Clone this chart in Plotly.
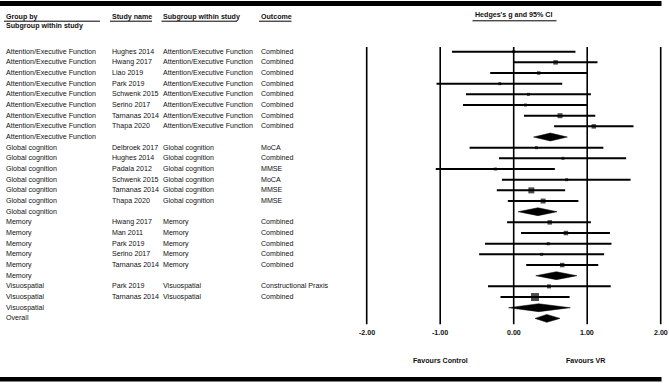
import plotly.graph_objects as go

# ---------------- data ----------------
group_by = (["Attention/Executive Function"] * 9 + ["Global cognition"] * 7 +
            ["Memory"] * 6 + ["Visuospatial"] * 3 + ["Overall"])
study_name = ["Hughes 2014", "Hwang 2017", "Liao 2019", "Park 2019", "Schwenk 2015",
              "Serino 2017", "Tarnanas 2014", "Thapa 2020", "",
              "Delbroek 2017", "Hughes 2014", "Padala 2012", "Schwenk 2015",
              "Tarnanas 2014", "Thapa 2020", "",
              "Hwang 2017", "Man 2011", "Park 2019", "Serino 2017", "Tarnanas 2014", "",
              "Park 2019", "Tarnanas 2014", "", ""]
subgroup = (["Attention/Executive Function"] * 8 + [""] +
            ["Global cognition"] * 6 + [""] +
            ["Memory"] * 5 + [""] +
            ["Visuospatial"] * 2 + ["", ""])
outcome = (["Combined"] * 8 + [""] +
           ["MoCA", "Combined", "MMSE", "MoCA", "MMSE", "MMSE", ""] +
           ["Combined"] * 5 + [""] +
           ["Constructional Praxis", "Combined", "", ""])
effect = [0.00, 0.57, 0.34, -0.19, 0.20, 0.16, 0.63, 1.09, 0.50,
          0.31, 0.67, -0.25, 0.72, 0.24, 0.40, 0.33,
          0.49, 0.71, 0.47, 0.38, 0.66, 0.58,
          0.48, 0.29, 0.34, 0.45]
ci_low = [-0.84, 0.00, -0.32, -1.05, -0.65, -0.69, 0.14, 0.55, 0.27,
          -0.60, -0.20, -1.06, -0.16, -0.23, -0.08, 0.06,
          -0.09, 0.10, -0.39, -0.47, 0.17, 0.30,
          -0.35, -0.18, -0.07, 0.29]
ci_high = [0.84, 1.14, 1.00, 0.66, 1.05, 1.00, 1.11, 1.63, 0.73,
           1.22, 1.53, 0.56, 1.59, 0.70, 0.88, 0.59,
           1.05, 1.31, 1.33, 1.23, 1.15, 0.86,
           1.32, 0.76, 0.77, 0.63]
is_summary = [False] * 8 + [True] + [False] * 6 + [True] + [False] * 5 + [True] + \
             [False] * 2 + [True, True]
rel_weight = [7, 20, 12, 7, 9, 7, 25, 20, 0,
              7, 7, 7, 7, 36, 25, 0,
              20, 20, 10, 7, 20, 0,
              16, 64, 0, 0]
tick_values = [-2, -1, 0, 1, 2]
tick_labels = ["-2.00", "-1.00", "0.00", "1.00", "2.00"]
header_cols = ["Group by", "Study name", "Subgroup within study", "Outcome"]
axis_title = "Hedges's g and 95% CI"
favours = ["Favours Control", "Favours VR"]

# ---------------- layout helpers ----------------
W, H = 669, 383
FONT = "Liberation Sans, Arial, sans-serif"
TXT = "#111111"


def px(x):
    return x / W


def py(y):
    return 1 - y / H


rows = list(range(1, len(effect) + 1))

fig = go.Figure()

# CI lines for individual studies
lx, ly = [], []
for r, lo, hi, s in zip(rows, ci_low, ci_high, is_summary):
    if not s:
        lx += [lo, hi, None]
        ly += [r, r, None]
fig.add_trace(go.Scatter(x=lx, y=ly, mode="lines",
                         line=dict(color="black", width=2), hoverinfo="skip"))

# square markers (size from weight)
mx = [e for e, s in zip(effect, is_summary) if not s]
my = [r for r, s in zip(rows, is_summary) if not s]
ms = [max(3.0, w ** 0.5) for w, s in zip(rel_weight, is_summary) if not s]
fig.add_trace(go.Scatter(x=mx, y=my, mode="markers",
                         marker=dict(symbol="square", size=ms, color="black",
                                     line=dict(width=0)), hoverinfo="skip"))

# summary diamonds
half_h = 0.37
for r, e, lo, hi, s in zip(rows, effect, ci_low, ci_high, is_summary):
    if s:
        fig.add_trace(go.Scatter(x=[lo, e, hi, e, lo], y=[r, r - half_h, r, r + half_h, r],
                                 mode="lines", fill="toself", fillcolor="black",
                                 line=dict(color="black", width=0.5), hoverinfo="skip"))

shapes = []
# vertical reference lines
for v in tick_values:
    shapes.append(dict(type="line", xref="x", yref="y", x0=v, x1=v, y0=0.56, y1=26.55,
                       line=dict(color="black", width=1.6), layer="below"))
# thick top / bottom bars
shapes.append(dict(type="rect", xref="paper", yref="paper", x0=0, x1=px(661.5),
                   y0=py(6), y1=py(1), fillcolor="black", line=dict(width=0)))
shapes.append(dict(type="rect", xref="paper", yref="paper", x0=0, x1=px(661.5),
                   y0=py(381.5), y1=py(377), fillcolor="black", line=dict(width=0)))
# header underlines
for x0, x1 in [(4, 100), (110, 152), (161.5, 237), (259, 291.5), (472.5, 556.5)]:
    yy = 21.2 if x0 < 400 else 20.8
    shapes.append(dict(type="line", xref="paper", yref="paper", x0=px(x0), x1=px(x1),
                       y0=py(yy), y1=py(yy), line=dict(color="black", width=1)))

ann = []
col_x = [4, 110, 161, 259]


def add_text(text, x, y, xref="paper", yref="paper", bold=False, anchor="left", size=7.1):
    ann.append(dict(text=("<b>%s</b>" % text) if bold else text, x=x, y=y, xref=xref,
                    yref=yref, xanchor=anchor, yanchor="middle", showarrow=False,
                    font=dict(family=FONT, size=size, color=TXT)))


# header
for t, cx in zip(header_cols, col_x):
    add_text(t, px(cx), py(17.3), bold=True)
add_text("Subgroup within study", px(4), py(25.5), bold=True)
add_text(axis_title, 0, py(15), xref="x", bold=True, anchor="center")

# table text
for r, g, sn, sg, oc in zip(rows, group_by, study_name, subgroup, outcome):
    for t, cx in zip([g, sn, sg, oc], col_x):
        if t:
            add_text(t, px(cx), r, yref="y")

# tick labels
for v, lab in zip(tick_values, tick_labels):
    add_text(lab, v, py(332.7), xref="x", bold=True, anchor="center")
# favours labels
add_text(favours[0], -1.0, py(360.7), xref="x", bold=True, anchor="center")
add_text(favours[1], 0.97, py(360.7), xref="x", bold=True, anchor="center")

zero_px, unit_px = 513.7, 73.5
x_range = [(0 - zero_px) / unit_px, (W - zero_px) / unit_px]
row0_px, row_h = 51.7, 10.667
y_range = [1 + (H - row0_px) / row_h, 1 + (0 - row0_px) / row_h]

fig.update_layout(
    width=W, height=H, margin=dict(l=0, r=0, t=0, b=0),
    paper_bgcolor="white", plot_bgcolor="white", showlegend=False,
    xaxis=dict(range=x_range, visible=False, fixedrange=True),
    yaxis=dict(range=y_range, visible=False, fixedrange=True),
    shapes=shapes, annotations=ann,
)

fig.write_html("out.html", config={"displayModeBar": False},
               post_script="document.body.style.margin='0';document.body.style.overflow='hidden';")
